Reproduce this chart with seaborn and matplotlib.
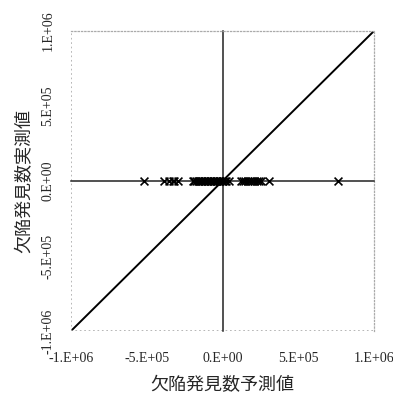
import matplotlib
matplotlib.use("Agg")
import matplotlib.pyplot as plt
import seaborn as sns
import pandas as pd

# predicted defects vs actual defects (all actual values are 0)
predicted = [-521000, -389000, -350000, -330000, -317000, -297000,
             -195000, -185000, -175000, -165000, -155000, -145000, -135000,
             -125000, -115000, -105000, -95000, -85000, -75000, -65000,
             -55000, -45000, -35000, -25000, -15000, -5000, 5000, 15000,
             25000, 40000,
             120000, 135000, 150000, 165000, 180000, 195000, 210000,
             225000, 240000, 255000, 304000, 759000]
actual = [0] * len(predicted)
diag = [-1e6, 1e6]
ticks = [-1e6, -5e5, 0, 5e5, 1e6]
tick_labels = ["-1.E+06", "-5.E+05", "0.E+00", "5.E+05", "1.E+06"]
xlabel = "欠陥発見数予測値"
ylabel = "欠陥発見数実測値"

sns.set_style("white")
plt.rcParams["font.family"] = ["Liberation Serif", "Noto Sans CJK JP"]

df = pd.DataFrame({"pred": predicted, "act": actual})
line_df = pd.DataFrame({"x": diag, "y": diag})

fig = plt.figure(figsize=(3.93, 3.94), dpi=100)
ax = fig.add_axes([0.1807, 0.16, 0.771, 0.7614])

sns.lineplot(data=line_df, x="x", y="y", color="black", lw=1.4, ax=ax)
sns.scatterplot(data=df, x="pred", y="act", marker="x", color="black",
                s=32, linewidth=1.2, ax=ax, zorder=3)

ax.set_xlim(-1e6, 1e6)
ax.set_ylim(-1e6, 1e6)

# axes crossing at origin
ax.spines["left"].set_position("zero")
ax.spines["bottom"].set_position("zero")
for s in ["left", "bottom"]:
    ax.spines[s].set_color("#222222")
    ax.spines[s].set_linewidth(1.1)
for s in ["top", "right"]:
    ax.spines[s].set_linestyle(":")
    ax.spines[s].set_color("#aaaaaa")
    ax.spines[s].set_linewidth(0.9)
ax.axvline(-1e6, ls=":", color="#aaaaaa", lw=1.2)
ax.axhline(-1e6, ls=":", color="#aaaaaa", lw=1.2)

ax.set_xticks(ticks)
ax.set_yticks(ticks)
ax.tick_params(direction="in", length=4, width=0.8, colors="black",
               labelbottom=False, labelleft=False)
ax.set_xlabel("")
ax.set_ylabel("")

# outer tick labels
sx = ax.secondary_xaxis(0)
sx.set_xticks(ticks, tick_labels)
sx.tick_params(length=0, pad=15, labelsize=10)
sx.spines["bottom"].set_visible(False)
sx.set_xlabel(xlabel, fontsize=13, family=["Noto Sans CJK JP"], labelpad=8)

sy = ax.secondary_yaxis(0)
sy.set_yticks(ticks, tick_labels)
sy.tick_params(length=0, pad=12, labelsize=10)
for lab in sy.get_yticklabels():
    lab.set_rotation(90)
    lab.set_va("center")
sy.spines["left"].set_visible(False)
sy.set_ylabel(ylabel, fontsize=13, family=["Noto Sans CJK JP"], labelpad=6)

fig.savefig("out.png", dpi=100)
